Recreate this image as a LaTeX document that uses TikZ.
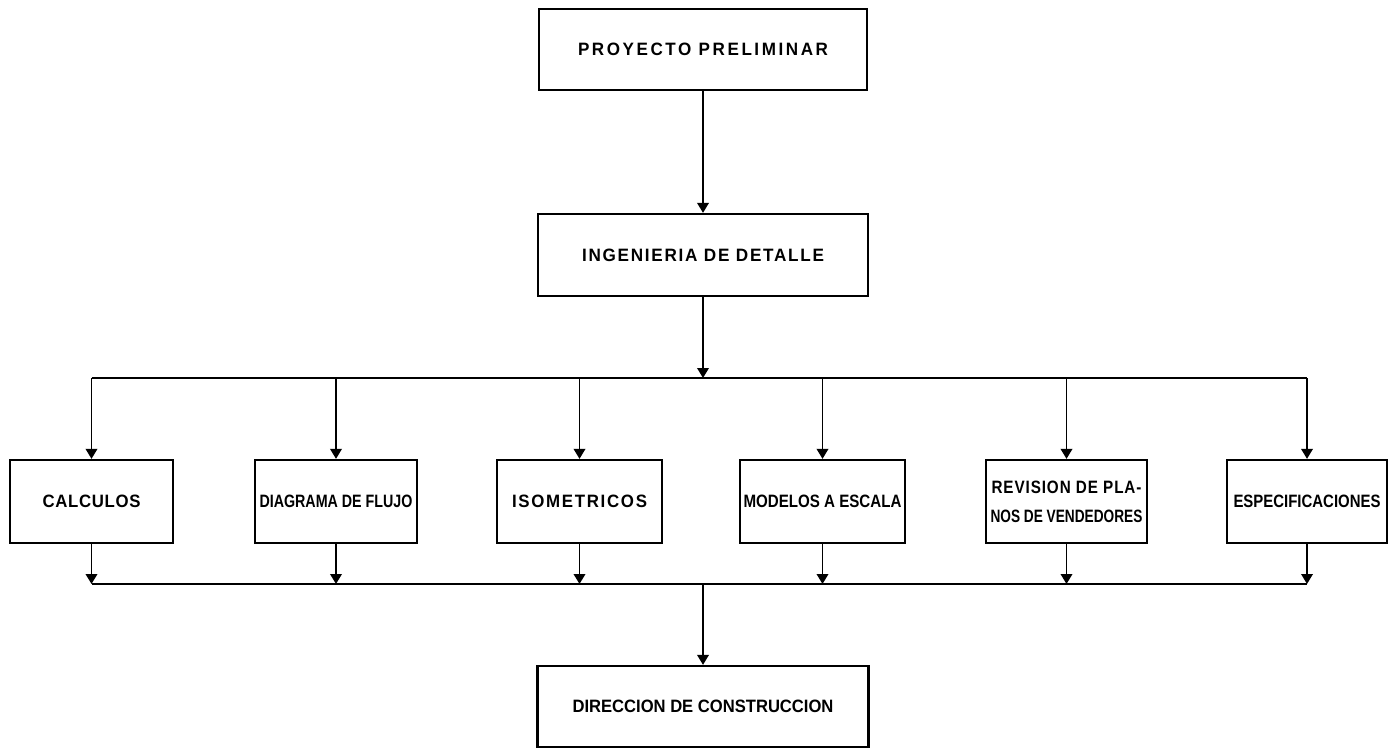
\documentclass[tikz,border=0pt]{standalone}
\usepackage{fontspec}
\setmainfont{Liberation Sans}
\usetikzlibrary{arrows.meta}
\newcommand{\rotulo}[3][0]{\resizebox{#2}{0.25cm}{\bfseries\addfontfeature{LetterSpace=#1}#3}}
\begin{document}
\begin{tikzpicture}[x=0.02cm,y=-0.02cm,
    caja/.style={draw,line width=1.3pt,inner sep=0pt,minimum height=1.66cm},
    flecha/.style={line width=1.1pt,-{Triangle[width=0.23cm,length=0.2cm]}}]
      \useasboundingbox (0,0) rectangle (1388,748);
      \node[caja,minimum width=6.56cm,minimum height=1.62cm] (proy) at (703,49.5) {\rotulo[15]{5cm}{PROYECTO PRELIMINAR}};
      \node[caja,minimum width=6.6cm,minimum height=1.64cm] (ing) at (703,255) {\rotulo[10]{4.84cm}{INGENIERIA DE DETALLE}};
      \node[caja,minimum width=3.26cm] (calc) at (91.5,501.5) {\rotulo[4]{1.96cm}{CALCULOS}};
      \node[caja,minimum width=3.24cm] (diag) at (336,501.5) {\rotulo{3.06cm}{DIAGRAMA DE FLUJO}};
      \node[caja,minimum width=3.3cm] (iso) at (579.5,501.5) {\rotulo[10]{2.7cm}{ISOMETRICOS}};
      \node[caja,minimum width=3.3cm] (mod) at (822.5,501.5) {\rotulo{3.16cm}{MODELOS A ESCALA}};
      \node[caja,minimum width=3.22cm,align=center] (rev) at (1066.5,501.5)
        {\rotulo[6]{3cm}{REVISION DE PLA-}\\[4.5pt]\rotulo{3.04cm}{NOS DE VENDEDORES}};
      \node[caja,minimum width=3.2cm] (esp) at (1307,501.5) {\rotulo{2.94cm}{ESPECIFICACIONES}};
      \node[caja,minimum width=6.62cm,minimum height=1.62cm] (dir) at (703,706.5) {\rotulo{5.22cm}{DIRECCION DE CONSTRUCCION}};
      \coordinate (arriba) at (703,378);
      \coordinate (abajo) at (703,584);
      \begin{scope}[line width=1.2pt]
        \draw (calc |- arriba) -- (esp |- arriba);
        \draw (calc |- abajo) -- (esp |- abajo);
      \end{scope}
      \begin{scope}[flecha]
        \draw (proy) -- (ing);
        \draw (ing) -- (arriba);
        \draw (calc |- arriba) -- (calc);
        \draw (diag |- arriba) -- (diag);
        \draw (iso |- arriba) -- (iso);
        \draw (mod |- arriba) -- (mod);
        \draw (rev |- arriba) -- (rev);
        \draw (esp |- arriba) -- (esp);
        \draw (calc) -- (calc |- abajo);
        \draw (diag) -- (diag |- abajo);
        \draw (iso) -- (iso |- abajo);
        \draw (mod) -- (mod |- abajo);
        \draw (rev) -- (rev |- abajo);
        \draw (esp) -- (esp |- abajo);
        \draw (abajo) -- (dir);
      \end{scope}
    \end{tikzpicture}
\end{document}
